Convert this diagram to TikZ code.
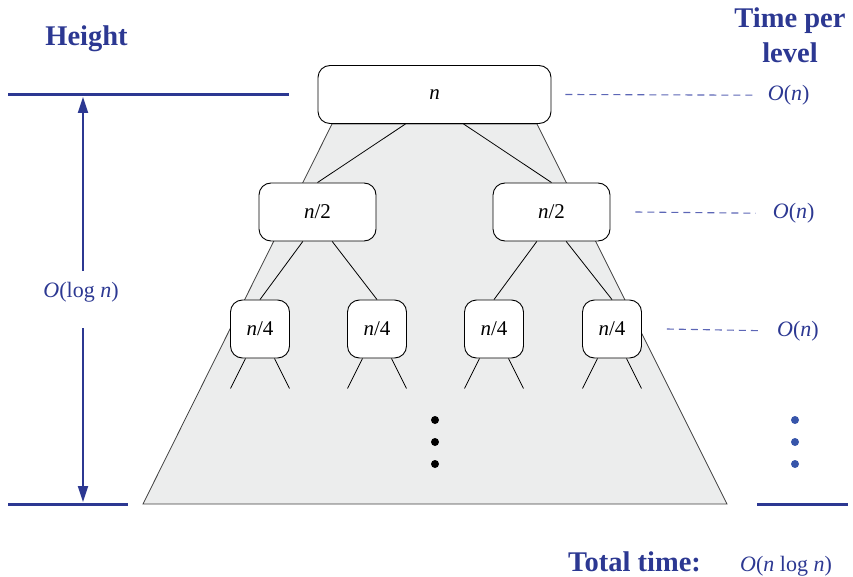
\documentclass[tikz,border=0pt]{standalone}
\usepackage{fontspec}
\setmainfont{Liberation Serif}
\usepackage{tikz}
\definecolor{navy}{RGB}{44,56,146}
\definecolor{paleblue}{RGB}{92,102,182}
\definecolor{dotblue}{RGB}{55,85,170}
\definecolor{treegray}{RGB}{236,237,237}
\usetikzlibrary{arrows.meta}
\usetikzlibrary{shapes}
\usetikzlibrary{positioning}

\begin{document}
\begin{tikzpicture}[x=1pt,y=-1pt,
    subproblem/.style={draw, fill=white, rounded corners=12pt, line width=0.9pt,
        minimum height=58pt, inner sep=0pt, font=\fontsize{21}{25}\selectfont},
    cost/.style={text=navy, inner sep=0pt, anchor=base west, font=\fontsize{22}{26}\selectfont},
    title/.style={text=navy, inner sep=0pt, font=\fontsize{28.5}{35}\selectfont\bfseries},
    levelline/.style={paleblue, line width=1.1pt, dash pattern=on 7pt off 5pt},
    heightline/.style={navy, line width=3pt}]
        \useasboundingbox (0,0) rectangle (853,577);
        % recursion tree outline
        \filldraw[fill=treegray, draw=black!75, line width=0.8pt] (332,124) -- (537,124) -- (727,504) -- (143,504) -- cycle;
        \node[subproblem, minimum width=233pt] (root) at (434.5,94.5) {\textit{n}};
        \node[subproblem, minimum width=117pt] (left) at (317.5,212) {\textit{n}/2};
        \node[subproblem, minimum width=117pt] (right) at (551.5,212) {\textit{n}/2};
        \node[subproblem, minimum width=59pt] (ll) at (260,329) {\textit{n}/4};
        \node[subproblem, minimum width=59pt] (lr) at (377,329) {\textit{n}/4};
        \node[subproblem, minimum width=59pt] (rl) at (494,329) {\textit{n}/4};
        \node[subproblem, minimum width=59pt] (rr) at (612,329) {\textit{n}/4};
        \draw[line width=0.8pt] ([xshift=-29pt]root.south) -- (left.north);
        \draw[line width=0.8pt] ([xshift=29pt]root.south) -- (right.north);
        \draw[line width=0.8pt] ([xshift=-14.7pt]left.south) -- (ll.north);
        \draw[line width=0.8pt] ([xshift=14.7pt]left.south) -- (lr.north);
        \draw[line width=0.8pt] ([xshift=-14.7pt]right.south) -- (rl.north);
        \draw[line width=0.8pt] ([xshift=14.7pt]right.south) -- (rr.north);
        \foreach \leaf in {ll,lr,rl,rr} {
            \draw[line width=0.8pt] ([xshift=-14.5pt]\leaf.south) -- ++(-15,30);
            \draw[line width=0.8pt] ([xshift=14.5pt]\leaf.south) -- ++(15,30);
        }
        \foreach \y in {420,442,464} {
            \fill (435,\y) circle (4pt);
            \fill[dotblue] (795,\y) circle (4pt);
        }
        % height
        \node[title, anchor=base] (heighttitle) at (86.5,45.3) {Height};
        \draw[heightline] (8,95) -- (289,95);
        \draw[heightline] (8,504) -- (128,504);
        \draw[heightline] (757,504) -- (848,504);
        \coordinate (htop) at (83,97);
        \coordinate (hgaptop) at (83,271);
        \coordinate (hgapbot) at (83,328);
        \coordinate (hbot) at (83,502);
        \node[cost, anchor=base] (height) at (81,297.7) {\textit{O}(log \textit{n})};
        \draw[navy, line width=2pt, -{Triangle[length=16pt,width=10pt]}] (hgaptop) -- (htop);
        \draw[navy, line width=2pt, -{Triangle[length=16pt,width=10pt]}] (hgapbot) -- (hbot);
        % time per level
        \node[title, align=center] (timetitle) at (790,35.6) {Time per\\level};
        \node[cost] (c0) at (767.7,100.5) {\textit{O}(\textit{n})};
        \node[cost] (c1) at (772.7,218.5) {\textit{O}(\textit{n})};
        \node[cost] (c2) at (777,336) {\textit{O}(\textit{n})};
        \draw[levelline] ([xshift=14pt]root.east) -- ([xshift=-11pt]c0.west);
        \draw[levelline] ([xshift=25pt]right.east) -- ([xshift=-17pt]c1.west);
        \draw[levelline] ([xshift=25pt]rr.east) -- ([xshift=-15pt]c2.west);
        \node[title, anchor=base west] (totaltitle) at (568,571) {Total time:};
        \node[cost] (total) at (740,571) {\textit{O}(\textit{n} log \textit{n})};
    \end{tikzpicture}
\end{document}
